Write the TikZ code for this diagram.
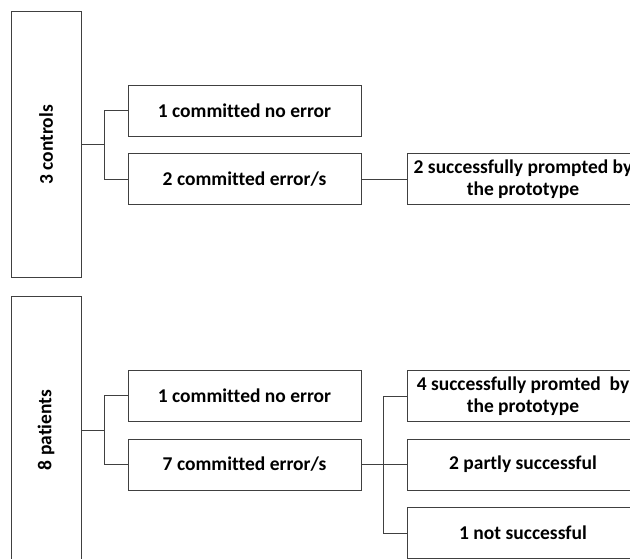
\documentclass[tikz,border=0pt]{standalone}
\usepackage{fontspec}
\setmainfont[Ligatures=NoCommon]{Carlito}
\definecolor{linegray}{RGB}{64,64,64}
\tikzset{%
  basebox/.style={draw=linegray, line width=1pt, inner sep=0pt, align=center,
    font=\bfseries\fontsize{19.5}{22}\selectfont},
  groupbox/.style={basebox, minimum width=70pt, minimum height=266pt},
  itembox/.style={basebox, minimum width=233pt, minimum height=51pt},
  link/.style={draw=linegray, line width=1pt}
}

\begin{document}
\begin{tikzpicture}[x=1pt,y=-1pt]
\clip (0,0) rectangle (630,559);

% controls
\node[groupbox] (ctrl) at (46,145) {\rotatebox{90}{3 controls}};
\node[itembox] (cnoerr) at (244.5,111) {1 committed no error};
\node[itembox] (cerr) at (244.5,179.5) {2 committed error/s};
\node[itembox, minimum width=232pt] (cprompt) at (523,179.5) {2 successfully prompted by\\ the prototype};

\draw[link] (ctrl.east) -- ++(23,0) coordinate (cjoin);
\draw[link] (cjoin) |- (cnoerr.west);
\draw[link] (cjoin) |- (cerr.west);
\draw[link] (cerr) -- (cprompt);

% patients
\node[groupbox, minimum height=268pt] (pat) at (46,430) {\rotatebox{90}{8 patients}};
\node[itembox] (pnoerr) at (244.5,395.5) {1 committed no error};
\node[itembox] (perr) at (244.5,464.5) {7 committed error/s};
\node[itembox, minimum width=232pt] (pprompt) at (523,396) {4 successfully promted\ \ by\\ the prototype};
\node[itembox, minimum width=232pt] (ppartly) at (523,464.5) {2 partly successful};
\node[itembox, minimum width=232pt] (pnot) at (523,533) {1 not successful};

\draw[link] (pat.east) -- ++(23,0) coordinate (pjoin);
\draw[link] (pjoin) |- (pnoerr.west);
\draw[link] (pjoin) |- (perr.west);
\draw[link] (perr.east) -- ++(22,0) coordinate (ejoin);
\draw[link] (ejoin) |- (pprompt.west);
\draw[link] (ejoin) -- (ppartly.west);
\draw[link] (ejoin) |- (pnot.west);
\end{tikzpicture}
\end{document}
